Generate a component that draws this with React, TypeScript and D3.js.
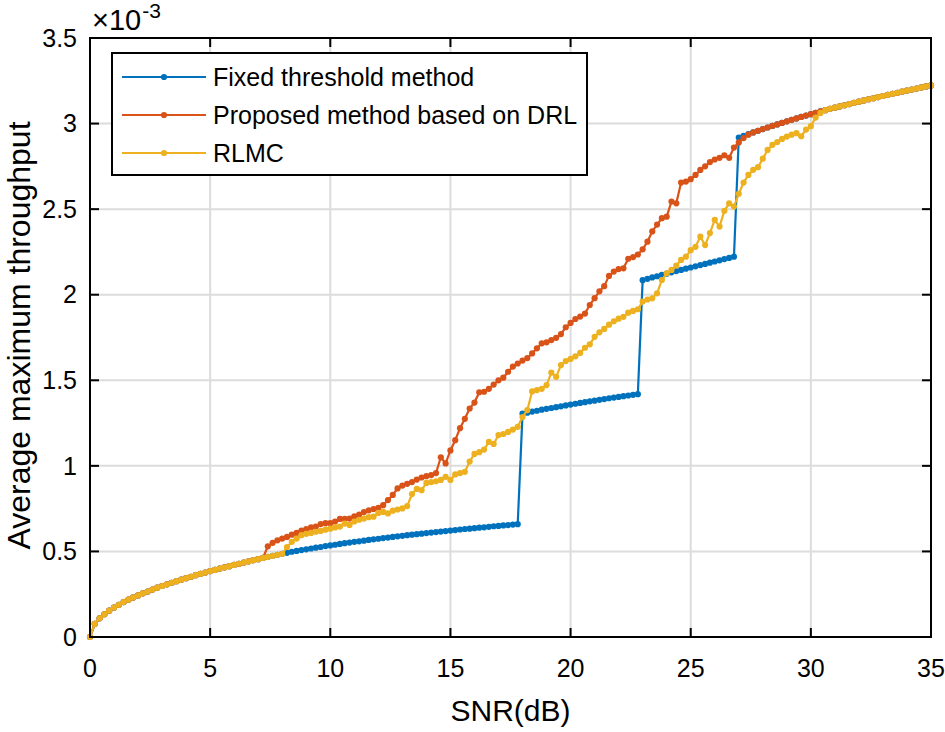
import { useEffect, useRef } from 'react';
import * as d3 from 'd3';

// x grid of the simulation (dB)
const snrDb = d3.range(176).map((i) => Math.round(i * 2) / 10);

const xTicks = [0, 5, 10, 15, 20, 25, 30, 35];
const yTicks = [0, 0.5, 1, 1.5, 2, 2.5, 3, 3.5];
const yTickLabels = ['0', '0.5', '1', '1.5', '2', '2.5', '3', '3.5'];

// values in units of 1e-3
// 0 .. 8.0 dB, all three methods share this part
const lowSnrShared = [
  0, 0.077, 0.109, 0.133, 0.154, 0.172, 0.188, 0.204, 0.218, 0.231,
  0.243, 0.255, 0.266, 0.277, 0.288, 0.298, 0.308, 0.317, 0.326, 0.335,
  0.344, 0.352, 0.361, 0.369, 0.377, 0.385, 0.392, 0.4, 0.407, 0.414,
  0.421, 0.428, 0.435, 0.442, 0.449, 0.455, 0.462, 0.468, 0.474, 0.48,
  0.486,
];

// fixed threshold, 8.2 .. 17.8 dB
const fixedSeg1 = [
  0.492, 0.498, 0.503, 0.508, 0.512, 0.517, 0.522, 0.526, 0.531, 0.535,
  0.539, 0.544, 0.548, 0.552, 0.556, 0.559, 0.563, 0.567, 0.571, 0.574,
  0.578, 0.581, 0.585, 0.588, 0.591, 0.595, 0.598, 0.601, 0.604, 0.607,
  0.61, 0.613, 0.616, 0.619, 0.622, 0.625, 0.628, 0.631, 0.633, 0.636,
  0.639, 0.641, 0.644, 0.647, 0.649, 0.652, 0.654, 0.657, 0.659,
];

// fixed threshold, 18.0 .. 22.8 dB
const fixedSeg2 = [
  1.305, 1.311, 1.317, 1.322, 1.328, 1.333, 1.338, 1.343, 1.348, 1.353,
  1.358, 1.363, 1.368, 1.372, 1.377, 1.381, 1.386, 1.39, 1.395, 1.399,
  1.403, 1.407, 1.411, 1.415, 1.419,
];

// fixed threshold, 23.0 .. 26.8 dB
const fixedSeg3 = [
  2.085, 2.093, 2.101, 2.108, 2.116, 2.123, 2.131, 2.138, 2.145, 2.152,
  2.159, 2.166, 2.173, 2.18, 2.187, 2.194, 2.201, 2.208, 2.215, 2.222,
];

// 27.0 .. 35.0 dB, top modulation level
const highSnrShared = [
  2.918, 2.928, 2.938, 2.948, 2.958, 2.968, 2.977, 2.986, 2.995, 3.004,
  3.013, 3.022, 3.03, 3.039, 3.047, 3.055, 3.063, 3.071, 3.078, 3.086,
  3.093, 3.1, 3.107, 3.114, 3.121, 3.128, 3.135, 3.142, 3.148, 3.155,
  3.161, 3.168, 3.174, 3.18, 3.187, 3.193, 3.199, 3.205, 3.211, 3.217,
  3.223,
];

// proposed DRL, 7.4 .. 27.4 dB
const proposedMid = [
  0.53, 0.55, 0.565, 0.575, 0.585, 0.598, 0.608, 0.622, 0.63, 0.64,
  0.645, 0.66, 0.665, 0.665, 0.675, 0.69, 0.69, 0.692, 0.705, 0.715,
  0.73, 0.74, 0.748, 0.755, 0.77, 0.8, 0.83, 0.868, 0.885, 0.895,
  0.905, 0.92, 0.932, 0.94, 0.946, 0.958, 1.05, 1.014, 1.09, 1.15,
  1.22, 1.275, 1.335, 1.37, 1.43, 1.433, 1.45, 1.475, 1.5, 1.515,
  1.55, 1.58, 1.598, 1.615, 1.63, 1.657, 1.687, 1.716, 1.722, 1.735,
  1.748, 1.77, 1.81, 1.835, 1.858, 1.872, 1.89, 1.94, 1.98, 2.02,
  2.05, 2.11, 2.135, 2.15, 2.154, 2.21, 2.22, 2.235, 2.265, 2.31,
  2.37, 2.41, 2.447, 2.456, 2.544, 2.534, 2.655, 2.661, 2.675, 2.7,
  2.729, 2.75, 2.775, 2.79, 2.8, 2.815, 2.8, 2.86, 2.89, 2.915,
  2.935,
];

// RLMC, 8.2 .. 30.4 dB
const rlmcMid = [
  0.526, 0.556, 0.575, 0.595, 0.603, 0.608, 0.615, 0.62, 0.627, 0.633,
  0.64, 0.645, 0.663, 0.655, 0.675, 0.685, 0.692, 0.7, 0.703, 0.725,
  0.731, 0.722, 0.738, 0.745, 0.751, 0.765, 0.835, 0.865, 0.858, 0.9,
  0.905, 0.91, 0.918, 0.936, 0.918, 0.95, 0.958, 0.965, 1.025, 1.07,
  1.08, 1.095, 1.14, 1.128, 1.18, 1.186, 1.198, 1.212, 1.228, 1.285,
  1.326, 1.435, 1.443, 1.45, 1.472, 1.545, 1.52, 1.589, 1.612, 1.625,
  1.64, 1.66, 1.69, 1.71, 1.754, 1.78, 1.8, 1.825, 1.845, 1.86,
  1.871, 1.895, 1.905, 1.915, 1.96, 1.972, 1.979, 2.008, 2.086, 2.125,
  2.145, 2.17, 2.203, 2.222, 2.26, 2.28, 2.339, 2.29, 2.36, 2.437,
  2.398, 2.49, 2.534, 2.515, 2.59, 2.655, 2.7, 2.73, 2.745, 2.795,
  2.846, 2.876, 2.892, 2.91, 2.924, 2.935, 2.944, 2.926, 2.965, 2.985,
  3.035, 3.062,
];

const fixedThreshold = [...lowSnrShared, ...fixedSeg1, ...fixedSeg2, ...fixedSeg3, ...highSnrShared];
const proposedDrl = [...lowSnrShared.slice(0, 37), ...proposedMid, ...highSnrShared.slice(3)];
const rlmc = [...lowSnrShared, ...rlmcMid, ...highSnrShared.slice(18)];

const seriesNames = ['Fixed threshold method', 'Proposed method based on DRL', 'RLMC'];
const seriesColors = ['#0072BD', '#D95319', '#EDB120'];
const seriesValues = [fixedThreshold, proposedDrl, rlmc];

const FONT = '"Liberation Sans", Arial, Helvetica, sans-serif';

export default function App() {
  const svgRef = useRef<SVGSVGElement>(null);

  useEffect(() => {
    if (!svgRef.current) return;
    const root = d3.select(svgRef.current);
    root.selectAll('*').remove();

    const W = 945;
    const H = 732;
    const margin = { top: 38, right: 14, bottom: 95, left: 90 };
    const width = W - margin.left - margin.right;
    const height = H - margin.top - margin.bottom;

    root.attr('width', W).attr('height', H);
    root.append('rect').attr('width', W).attr('height', H).attr('fill', '#fff');

    const svg = root.append('g').attr('transform', `translate(${margin.left},${margin.top})`);

    const x = d3.scaleLinear().domain([0, 35]).range([0, width]);
    const y = d3.scaleLinear().domain([0, 3.5]).range([height, 0]);

    // grid
    const grid = svg.append('g');
    xTicks.slice(1, -1).forEach((t) => {
      grid.append('line')
        .attr('x1', x(t)).attr('x2', x(t))
        .attr('y1', 0).attr('y2', height)
        .attr('stroke', '#dcdcdc').attr('stroke-width', 2);
    });
    yTicks.slice(1, -1).forEach((t) => {
      grid.append('line')
        .attr('x1', 0).attr('x2', width)
        .attr('y1', y(t)).attr('y2', y(t))
        .attr('stroke', '#dcdcdc').attr('stroke-width', 2);
    });

    svg.append('clipPath').attr('id', 'plot-clip')
      .append('rect').attr('x', -5).attr('y', -5).attr('width', width + 10).attr('height', height + 10);

    const plot = svg.append('g').attr('clip-path', 'url(#plot-clip)');

    const line = d3.line<number>()
      .x((_, i) => x(snrDb[i]))
      .y((d) => y(d));

    seriesValues.forEach((vals, s) => {
      plot.append('path')
        .datum(vals)
        .attr('fill', 'none')
        .attr('stroke', seriesColors[s])
        .attr('stroke-width', 2.2)
        .attr('stroke-linejoin', 'round')
        .attr('d', line);
      plot.selectAll(`.dot-${s}`)
        .data(vals)
        .enter()
        .append('circle')
        .attr('class', `dot-${s}`)
        .attr('cx', (_, i) => x(snrDb[i]))
        .attr('cy', (d) => y(d))
        .attr('r', 3.1)
        .attr('fill', seriesColors[s]);
    });

    // axes box with inward ticks on all sides
    const axes = svg.append('g');
    axes.append('rect')
      .attr('width', width).attr('height', height)
      .attr('fill', 'none').attr('stroke', '#000').attr('stroke-width', 2);
    const tickLen = 9;
    xTicks.forEach((t) => {
      axes.append('line').attr('x1', x(t)).attr('x2', x(t)).attr('y1', height).attr('y2', height - tickLen)
        .attr('stroke', '#000').attr('stroke-width', 2);
      axes.append('line').attr('x1', x(t)).attr('x2', x(t)).attr('y1', 0).attr('y2', tickLen)
        .attr('stroke', '#000').attr('stroke-width', 2);
      axes.append('text')
        .attr('x', x(t)).attr('y', height + 40)
        .attr('text-anchor', 'middle')
        .style('font-family', FONT).style('font-size', '25px').style('fill', '#000')
        .text(String(t));
    });
    yTicks.forEach((t, i) => {
      axes.append('line').attr('x1', 0).attr('x2', tickLen).attr('y1', y(t)).attr('y2', y(t))
        .attr('stroke', '#000').attr('stroke-width', 2);
      axes.append('line').attr('x1', width).attr('x2', width - tickLen).attr('y1', y(t)).attr('y2', y(t))
        .attr('stroke', '#000').attr('stroke-width', 2);
      axes.append('text')
        .attr('x', -13).attr('y', y(t)).attr('dy', '0.35em')
        .attr('text-anchor', 'end')
        .style('font-family', FONT).style('font-size', '25px').style('fill', '#000')
        .text(yTickLabels[i]);
    });

    // exponent label
    const expo = svg.append('text')
      .attr('x', 2).attr('y', -8)
      .style('font-family', FONT).style('font-size', '29px').style('fill', '#000');
    expo.append('tspan').text('\u00d710');
    expo.append('tspan').attr('dy', -12).attr('dx', 1).style('font-size', '21px').text('-3');

    // axis titles
    svg.append('text')
      .attr('x', width / 2).attr('y', height + 84)
      .attr('text-anchor', 'middle')
      .style('font-family', FONT).style('font-size', '30px').style('fill', '#000')
      .text('SNR(dB)');
    svg.append('text')
      .attr('transform', `translate(${-60},${height / 2 - 2}) rotate(-90)`)
      .attr('text-anchor', 'middle')
      .style('font-family', FONT).style('font-size', '32px').style('fill', '#000')
      .text('Average maximum throughput');

    // legend
    const legend = svg.append('g').attr('transform', 'translate(22,15)');
    legend.append('rect')
      .attr('width', 475).attr('height', 122)
      .attr('fill', '#fff').attr('stroke', '#000').attr('stroke-width', 2);
    seriesNames.forEach((name, i) => {
      const row = legend.append('g').attr('transform', `translate(0, ${24 + i * 38})`);
      row.append('line').attr('x1', 10).attr('x2', 94).attr('y1', 0).attr('y2', 0)
        .attr('stroke', seriesColors[i]).attr('stroke-width', 2.2);
      row.append('circle').attr('cx', 52).attr('cy', 0).attr('r', 3.1).attr('fill', seriesColors[i]);
      row.append('text')
        .attr('x', 101).attr('y', 0).attr('dy', '0.35em')
        .style('font-family', FONT).style('font-size', '25px').style('fill', '#000')
        .text(name);
    });
  }, []);

  return (
    <div style={{ position: 'absolute', left: 0, top: 0 }}>
      <svg ref={svgRef} style={{ display: 'block' }} />
    </div>
  );
}
